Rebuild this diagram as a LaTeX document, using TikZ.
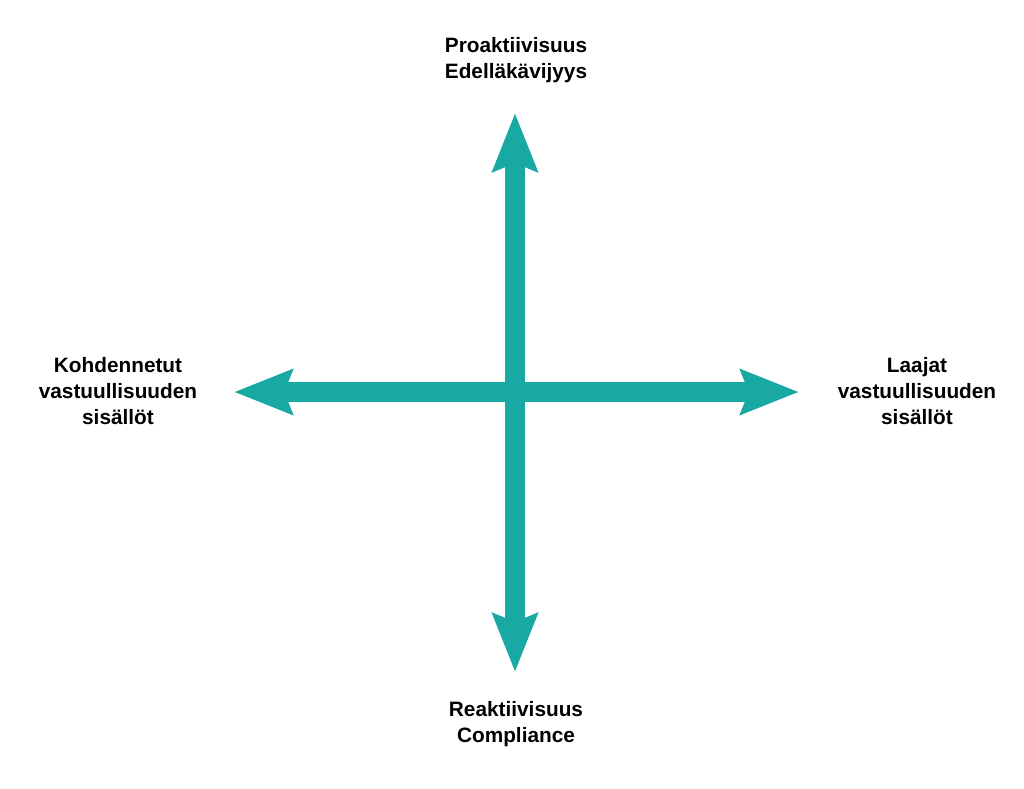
\documentclass[tikz,border=0pt]{standalone}
\usepackage{fontspec}
\setmainfont{Liberation Sans}
\usetikzlibrary{arrows.meta}
\definecolor{teal1}{HTML}{19A9A5}
\tikzset{
  axis/.style={draw=teal1, line width=20pt,
    {Stealth[length=58pt,width=44pt,inset=8pt,fill=teal1]}-{Stealth[length=58pt,width=44pt,inset=8pt,fill=teal1]}},
  lbl/.style={font=\bfseries\fontsize{20.8}{26}\selectfont, align=center, inner sep=0pt, text=black}
}
\begin{document}
\begin{tikzpicture}[x=1pt,y=-1pt]
\useasboundingbox[fill=white] (0,0) rectangle (1024,788);
\coordinate (top) at (515,113);
\coordinate (bot) at (515,672);
\coordinate (left) at (234,392);
\coordinate (right) at (799,392);
\draw[axis] (left) -- (right);
\draw[axis] (bot) -- (top);
\node[lbl] (ltop) at (516,60) {Proaktiivisuus\\Edelläkävijyys};
\node[lbl] (lbot) at (516,724) {Reaktiivisuus\\Compliance};
\node[lbl] (lleft) at (118,391) {Kohdennetut\\vastuullisuuden\\sisällöt};
\node[lbl] (lright) at (917,391) {Laajat\\vastuullisuuden\\sisällöt};
\end{tikzpicture}
\end{document}
